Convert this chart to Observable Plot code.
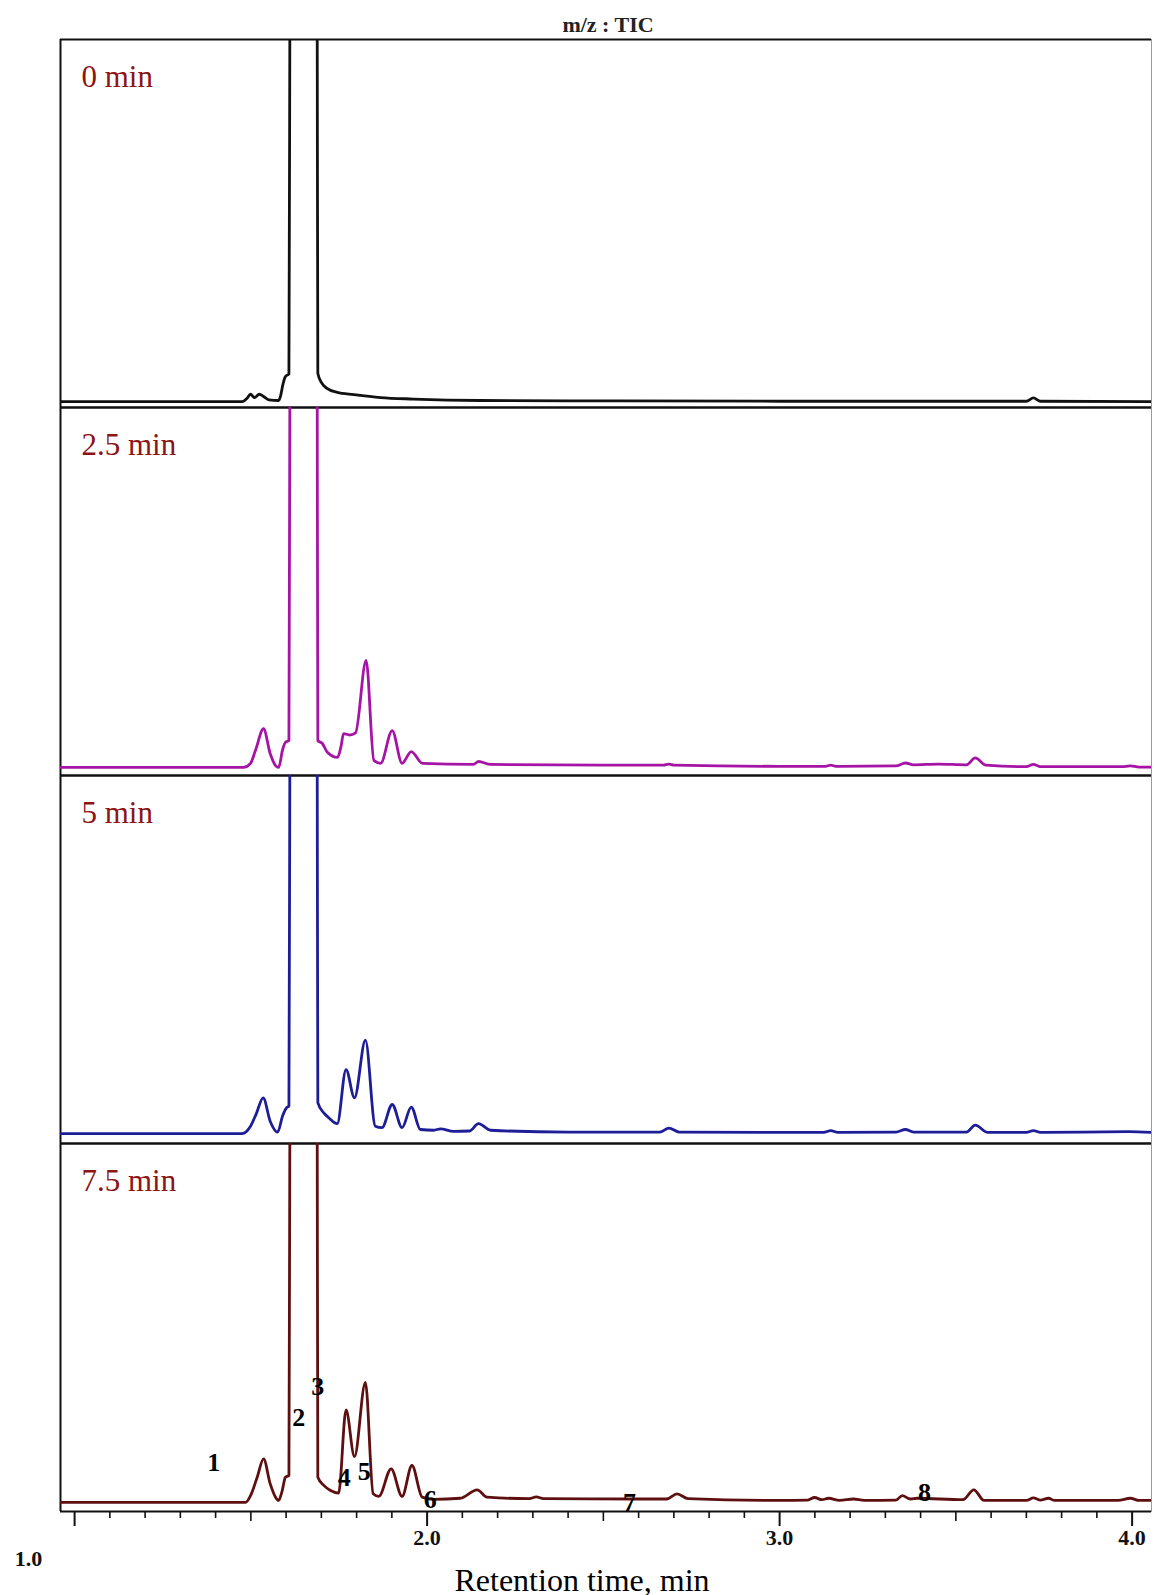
<!DOCTYPE html>
<html>
<head>
<meta charset="utf-8">
<script src="https://cdn.jsdelivr.net/npm/d3@7"></script>
<script src="https://cdn.jsdelivr.net/npm/@observablehq/plot@0.6"></script>
<style>
  html, body { margin: 0; padding: 0; background: #fff; }
  #chart { width: 1155px; height: 1595px; }
</style>
</head>
<body>
<div id="chart"></div>
<script>
// ---------- DATA ----------
const panels = ["0 min", "2.5 min", "5 min", "7.5 min"];
const traceColors = ["#111111", "#a614a6", "#1d1d98", "#5e1010"];
const chartTitle = "m/z : TIC";
const xTitle = "Retention time, min";

// retention time (min) and relative intensity (% of panel height)
const time0 = [0.960, 1.475, 1.490, 1.499, 1.510, 1.524, 1.536, 1.551, 1.579, 1.584, 1.591, 1.598, 1.608, 1.611, 1.650, 1.688, 1.690, 1.700, 1.716, 1.745, 1.792, 1.868, 1.961, 2.151, 2.500, 3.000, 3.500, 3.700, 3.720, 3.740, 4.055];
const signal0 = [1.6, 1.6, 2.6, 3.6, 2.7, 3.6, 3.0, 2.1, 1.9, 3.0, 6.3, 8.4, 9.1, 120, 1000, 120, 9.3, 6.8, 5.2, 4.1, 3.5, 2.7, 2.3, 1.9, 1.8, 1.7, 1.7, 1.7, 2.6, 1.7, 1.6];

const time25 = [0.960, 1.479, 1.499, 1.513, 1.536, 1.555, 1.570, 1.579, 1.590, 1.598, 1.608, 1.611, 1.650, 1.688, 1.690, 1.703, 1.717, 1.746, 1.756, 1.763, 1.780, 1.797, 1.827, 1.849, 1.868, 1.901, 1.929, 1.955, 1.987, 2.131, 2.146, 2.180, 2.500, 2.670, 2.686, 2.700, 3.000, 3.130, 3.145, 3.160, 3.330, 3.357, 3.380, 3.450, 3.530, 3.555, 3.585, 3.700, 3.720, 3.740, 3.970, 3.995, 4.020, 4.055];
const signal25 = [2.2, 2.2, 3.3, 6.8, 12.7, 5.9, 2.7, 2.2, 7.0, 9.0, 9.5, 120, 1000, 120, 9.5, 8.7, 6.3, 4.9, 8.0, 11.4, 11.0, 11.6, 31.3, 4.1, 3.3, 12.2, 3.3, 6.5, 3.3, 3.0, 3.8, 3.0, 2.8, 2.8, 3.1, 2.8, 2.5, 2.5, 2.8, 2.5, 2.6, 3.4, 2.9, 3.1, 2.9, 4.8, 2.8, 2.4, 3.0, 2.4, 2.4, 2.6, 2.3, 2.3];

const time5 = [0.960, 1.475, 1.499, 1.515, 1.535, 1.555, 1.576, 1.590, 1.601, 1.608, 1.611, 1.650, 1.688, 1.690, 1.707, 1.721, 1.745, 1.770, 1.794, 1.825, 1.853, 1.872, 1.901, 1.929, 1.955, 1.981, 2.019, 2.038, 2.075, 2.120, 2.146, 2.180, 2.400, 2.660, 2.686, 2.715, 3.000, 3.125, 3.145, 3.165, 3.330, 3.357, 3.380, 3.530, 3.555, 3.590, 3.700, 3.720, 3.740, 3.990, 4.055];
const signal5 = [2.7, 2.7, 4.7, 8.0, 12.4, 6.0, 3.1, 7.5, 9.7, 10.2, 120, 1000, 120, 11.1, 8.3, 7.0, 5.4, 20.1, 12.4, 28.1, 4.7, 4.3, 10.6, 4.3, 9.9, 3.8, 3.6, 4.0, 3.3, 3.4, 5.4, 3.6, 3.1, 3.1, 4.2, 3.1, 3.0, 3.0, 3.5, 3.0, 3.1, 3.8, 3.1, 3.1, 5.0, 3.0, 3.0, 3.5, 3.0, 3.2, 3.0];

const time75 = [0.960, 1.485, 1.499, 1.518, 1.536, 1.555, 1.570, 1.579, 1.589, 1.598, 1.608, 1.611, 1.650, 1.688, 1.690, 1.707, 1.726, 1.749, 1.770, 1.794, 1.825, 1.847, 1.863, 1.898, 1.929, 1.957, 1.986, 2.019, 2.094, 2.142, 2.170, 2.290, 2.310, 2.330, 2.600, 2.680, 2.709, 2.740, 3.000, 3.080, 3.099, 3.120, 3.139, 3.170, 3.210, 3.240, 3.330, 3.348, 3.371, 3.390, 3.520, 3.551, 3.580, 3.700, 3.720, 3.740, 3.763, 3.780, 3.960, 3.995, 4.020, 4.055];
const signal75 = [2.5, 2.5, 4.3, 9.3, 14.3, 7.5, 3.9, 3.0, 5.7, 9.3, 9.8, 120, 1000, 120, 9.3, 7.1, 5.7, 5.0, 27.6, 14.9, 35.1, 4.8, 4.1, 11.6, 4.1, 12.5, 3.9, 3.3, 3.6, 5.9, 3.9, 3.5, 4.0, 3.5, 3.4, 3.4, 4.8, 3.5, 3.0, 3.1, 3.8, 3.2, 3.6, 3.0, 3.4, 3.0, 3.1, 4.3, 3.4, 3.6, 3.2, 5.9, 3.0, 3.0, 3.7, 3.1, 3.6, 3.0, 3.0, 3.6, 3.0, 3.0];

// peak numbers annotated in the 7.5 min trace
const peakLabels = ["1", "2", "3", "4", "5", "6", "7", "8"];
const peakTimes = [1.395, 1.636, 1.690, 1.765, 1.822, 2.009, 2.574, 3.411];
const peakHeights = [13.3, 25.6, 33.8, 9.3, 10.7, 3.2, 2.4, 5.2];

// axis ticks
const xDomain = [0.960, 4.055];
const yDomain = [0, 100];
const majorTicks = [1.0, 2.0, 3.0, 4.0];
const halfTicks = [1.5, 2.5, 3.5];
const minorTicks = [1.1, 1.2, 1.3, 1.4, 1.6, 1.7, 1.8, 1.9, 2.1, 2.2, 2.3, 2.4, 2.6, 2.7, 2.8, 2.9, 3.1, 3.2, 3.3, 3.4, 3.6, 3.7, 3.8, 3.9];
const labeledTicks = [2.0, 3.0, 4.0];
const strayTickLabel = "1.0";

// ---------- TABLES ----------
const series = [[time0, signal0], [time25, signal25], [time5, signal5], [time75, signal75]];
const rows = [];
series.forEach(([ts, vs], k) => ts.forEach((t, i) => rows.push({panel: panels[k], t, v: vs[i]})));
const panelRows = panels.map(p => ({panel: p, label: p}));
const peakRows = peakLabels.map((label, i) => ({panel: panels[3], label, t: peakTimes[i], v: peakHeights[i]}));
const lastPanel = [{panel: panels[3]}];
const firstPanel = [{panel: panels[0]}];

const serif = "'Liberation Serif', 'Times New Roman', Times, serif";

const chart = Plot.plot({
  width: 1155,
  height: 1595,
  marginTop: 39,
  marginBottom: 84,
  marginLeft: 60,
  marginRight: 4,
  x: {domain: xDomain},
  y: {domain: yDomain, axis: null},
  fy: {domain: panels, padding: 0, axis: null},
  color: {domain: panels, range: traceColors},
  style: {fontFamily: serif, background: "#fff", color: "#000", overflow: "visible"},
  marks: [
    Plot.frame({stroke: "#9a9a9a", strokeWidth: 1}),
    Plot.ruleX(panelRows, {x: () => xDomain[0], fy: "panel", stroke: "#111", strokeWidth: 2}),
    Plot.ruleY(panelRows, {y: () => yDomain[1], fy: "panel", stroke: "#111", strokeWidth: 2}),
    Plot.ruleY(panelRows, {y: () => yDomain[0], fy: "panel", stroke: "#111", strokeWidth: 2}),
    Plot.line(rows, {
      x: "t", y: "v", fy: "panel", z: "panel", stroke: "panel",
      strokeWidth: 2.8, curve: "monotone-x", clip: true, strokeLinejoin: "round"
    }),
    Plot.axisX({ticks: minorTicks, tickSize: 7, fill: "none", stroke: "#111", strokeWidth: 1.6}),
    Plot.axisX({ticks: halfTicks, tickSize: 10, fill: "none", stroke: "#111", strokeWidth: 1.6}),
    Plot.axisX({ticks: majorTicks, tickSize: 15, fill: "none", stroke: "#111", strokeWidth: 2}),
    Plot.axisX({
      ticks: labeledTicks, tickSize: 0, tickPadding: 18, label: null,
      tickFormat: d3.format(".1f"), fontSize: 22, fontWeight: "bold", fill: "#111"
    }),
    Plot.text(panelRows, {
      fy: "panel", text: "label", frameAnchor: "top-left", dx: 21, dy: 47,
      lineAnchor: "bottom", textAnchor: "start", fontSize: 31, fill: "#8b1414"
    }),
    Plot.text(peakRows, {
      x: "t", y: "v", fy: "panel", text: "label",
      fontSize: 26, fontWeight: "bold", fill: "#000"
    }),
    Plot.text(firstPanel, {
      fy: "panel", text: () => chartTitle, frameAnchor: "top", dx: 2, dy: -7.5,
      lineAnchor: "bottom", fontSize: 22, fontWeight: "bold", fill: "#222"
    }),
    Plot.text(lastPanel, {
      fy: "panel", text: () => xTitle, frameAnchor: "bottom", dx: -24, dy: 79,
      lineAnchor: "bottom", fontSize: 32, fill: "#000"
    }),
    Plot.text(lastPanel, {
      fy: "panel", x: () => majorTicks[0], text: () => strayTickLabel, frameAnchor: "bottom",
      dx: -46, dy: 54, lineAnchor: "bottom", fontSize: 22, fontWeight: "bold", fill: "#111"
    })
  ]
});

document.getElementById("chart").appendChild(chart);
</script>
</body>
</html>
